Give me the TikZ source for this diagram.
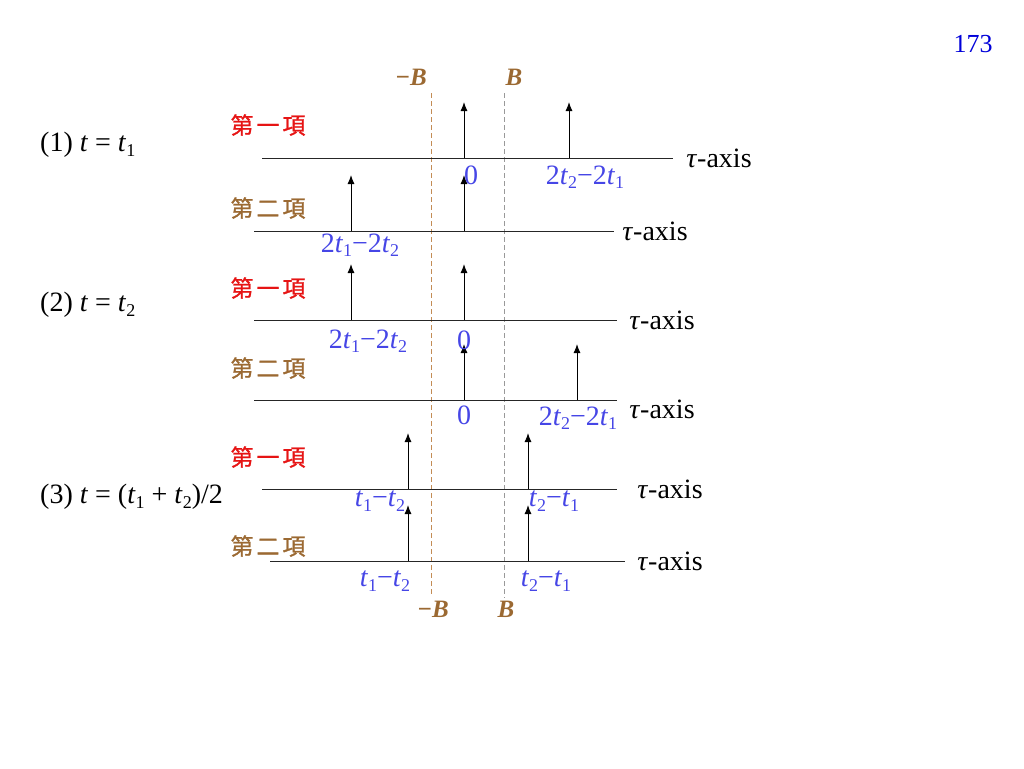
\documentclass[tikz,border=0pt]{standalone}
\usepackage{fontspec}
\setmainfont{Liberation Serif}
\newfontfamily\cjk[FakeBold=1.2]{Noto Sans CJK TC}
\usetikzlibrary{arrows.meta,positioning}
\definecolor{termred}{RGB}{230,20,20}
\definecolor{termbrown}{RGB}{155,105,50}
\definecolor{lblblue}{RGB}{70,70,230}
\definecolor{bandtan}{RGB}{195,140,85}
\newcommand{\tsb}[1]{\textit{t}\raisebox{-0.35ex}{\fontsize{18}{18}\selectfont #1}}

\begin{document}
\begin{tikzpicture}[x=1pt,y=-1pt,
                    every node/.style={inner sep=0pt,font=\fontsize{28}{32}\selectfont},
                    axisline/.style={draw=black!85,line width=1pt},
                    impulse/.style={draw=black,line width=1pt,-{Latex[length=9pt,width=7pt]}},
                    lbl/.style={text=lblblue},
                    axislbl/.style={font=\fontsize{28}{32}\selectfont},
                    term/.style={font=\cjk\fontsize{23}{23}\selectfont},
                    bandlbl/.style={text=termbrown,font=\fontsize{25}{28}\selectfont\bfseries\itshape}]
  \useasboundingbox (0,0) rectangle (1024,768);

  % page number
  \node (page) [text=blue!85!black,font=\fontsize{26}{30}\selectfont] at (973,44) {173};

  % band limits
  \coordinate (nbt) at (431,93);
  \coordinate (nbb) at (431,594);
  \coordinate (pbt) at (504,93);
  \coordinate (pbb) at (504,598);
  \draw[bandtan,line width=1pt,dash pattern=on 5pt off 3pt] (nbt) -- (nbb);
  \draw[black!40,line width=1pt,dash pattern=on 5pt off 3pt] (pbt) -- (pbb);
  \node (nB) [bandlbl] at (411,77) {−B};
  \node (pB) [bandlbl] at (514,77) {B};
  \node (nB2) [bandlbl] at (433,609) {−B};
  \node (pB2) [bandlbl] at (506,609) {B};

  % cases
  \node (c1) [anchor=west] at (40,145) {(1) \textit{t} = \tsb{1}};
  \node (c2) [anchor=west] at (40,305) {(2) \textit{t} = \tsb{2}};
  \node (c3) [anchor=west] at (40,497) {(3) \textit{t} = (\tsb{1} + \tsb{2})/2};

  % term titles
  \node (k1) [term,text=termred] at (268,125) {第\hspace{3pt}一\hspace{3pt}項};
  \node (k2) [term,text=termbrown] at (268,208) {第\hspace{3pt}二\hspace{3pt}項};
  \node (k3) [term,text=termred] at (268,288) {第\hspace{3pt}一\hspace{3pt}項};
  \node (k4) [term,text=termbrown] at (268,368) {第\hspace{3pt}二\hspace{3pt}項};
  \node (k5) [term,text=termred] at (268,457) {第\hspace{3pt}一\hspace{3pt}項};
  \node (k6) [term,text=termbrown] at (268,546) {第\hspace{3pt}二\hspace{3pt}項};

  % tau axes
  \foreach \i/\l/\r/\y/\tx/\ty in {1/262/673/158/719/158, 2/254/614/231/655/231,
                                   3/254/617/320/662/320, 4/254/617/400/662/409,
                                   5/262/617/489/670/489, 6/270/625/561/670/561} {
    \coordinate (ax\i l) at (\l,\y);
    \coordinate (ax\i r) at (\r,\y);
    \draw[axisline] (ax\i l) -- (ax\i r);
    \node (tau\i) [axislbl] at (\tx,\ty) {\textit{τ}-axis};
  }

  % impulses
  \foreach \x/\y [count=\i] in {464/158, 569/158, 351/231, 464/231, 351/320, 464/320,
                                464/400, 577/400, 408/489, 528/489, 408/561, 528/561} {
    \coordinate (base\i) at (\x,\y);
    \coordinate (tip\i) at (\x,\y-56);
    \draw[impulse] (base\i) -- (tip\i);
  }

  % impulse positions
  \node (p1) [lbl] at (471,175) {0};
  \node (p2) [lbl] at (585,177) {2\tsb{2}−2\tsb{1}};
  \node (p3) [lbl] at (360,245) {2\tsb{1}−2\tsb{2}};
  \node (p5) [lbl] at (368,341) {2\tsb{1}−2\tsb{2}};
  \node (p6) [lbl] at (464,340) {0};
  \node (p7) [lbl] at (464,415) {0};
  \node (p8) [lbl] at (578,418) {2\tsb{2}−2\tsb{1}};
  \node (p9) [lbl] at (380,501) {\tsb{1}−\tsb{2}};
  \node (p10) [lbl] at (554,501) {\tsb{2}−\tsb{1}};
  \node (p11) [lbl] at (385,581) {\tsb{1}−\tsb{2}};
  \node (p12) [lbl] at (546,581) {\tsb{2}−\tsb{1}};
\end{tikzpicture}
\end{document}
